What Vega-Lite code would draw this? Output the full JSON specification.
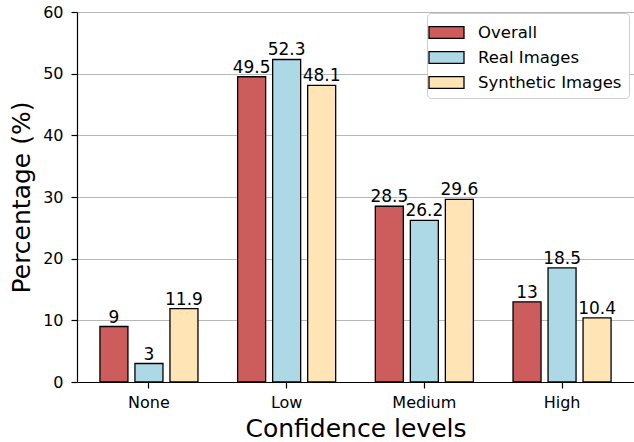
{
  "$schema": "https://vega.github.io/schema/vega-lite/v6.json",
  "width": 557,
  "height": 370,
  "autosize": {"type": "none"},
  "padding": {"left": 77, "top": 12, "right": 0, "bottom": 60},
  "background": "white",
  "config": {
    "font": "DejaVu Sans",
    "view": {"stroke": null},
    "axis": {"labelFont": "DejaVu Sans", "titleFont": "DejaVu Sans", "labelColor": "#000", "titleColor": "#000", "domainColor": "#000", "tickColor": "#000", "titleFontWeight": "normal"}
  },
  "data": {
    "values": [
      {"level": "None", "series": "Overall", "value": 9},
      {"level": "None", "series": "Real Images", "value": 3},
      {"level": "None", "series": "Synthetic Images", "value": 11.9},
      {"level": "Low", "series": "Overall", "value": 49.5},
      {"level": "Low", "series": "Real Images", "value": 52.3},
      {"level": "Low", "series": "Synthetic Images", "value": 48.1},
      {"level": "Medium", "series": "Overall", "value": 28.5},
      {"level": "Medium", "series": "Real Images", "value": 26.2},
      {"level": "Medium", "series": "Synthetic Images", "value": 29.6},
      {"level": "High", "series": "Overall", "value": 13},
      {"level": "High", "series": "Real Images", "value": 18.5},
      {"level": "High", "series": "Synthetic Images", "value": 10.4}
    ]
  },
  "encoding": {
    "x": {
      "field": "level", "type": "nominal", "sort": ["None", "Low", "Medium", "High"],
      "scale": {"paddingInner": 0.288, "paddingOuter": 0.1665},
      "axis": {"title": "Confidence levels", "titleFontSize": 25, "labelFontSize": 16, "labelAngle": 0, "tickSize": 6, "tickWidth": 1.2, "labelPadding": 6, "titlePadding": 6, "domainWidth": 1.2, "grid": false}
    },
    "xOffset": {"field": "series", "type": "nominal", "sort": ["Overall", "Real Images", "Synthetic Images"], "scale": {"paddingInner": 0.2, "paddingOuter": 0.0}},
    "y": {
      "field": "value", "type": "quantitative",
      "scale": {"domain": [0, 60], "nice": false},
      "axis": {"title": "Percentage (%)", "titleFontSize": 25, "labelFontSize": 16, "values": [0, 10, 20, 30, 40, 50, 60], "tickSize": 6, "tickWidth": 1.2, "labelPadding": 8, "titlePadding": 8, "gridColor": "#b8b8b8", "gridWidth": 1, "domainWidth": 1.2}
    }
  },
  "layer": [
    {
      "mark": {"type": "bar", "stroke": "black", "strokeWidth": 1.3},
      "encoding": {
        "color": {
          "field": "series", "type": "nominal", "sort": ["Overall", "Real Images", "Synthetic Images"],
          "scale": {"domain": ["Overall", "Real Images", "Synthetic Images"], "range": ["#cd5c5c", "#add8e6", "#ffe4b5"]},
          "legend": {
            "title": null, "orient": "none", "legendX": 350, "legendY": 1,
            "symbolType": "M-1.5,-0.5L1.5,-0.5L1.5,0.5L-1.5,0.5Z", "symbolSize": 544,
            "symbolStrokeColor": "black", "symbolStrokeWidth": 1.3, "symbolOpacity": 1,
            "labelFontSize": 16.5, "labelColor": "#000", "labelOffset": 19,
            "fillColor": "white", "strokeColor": "#cccccc", "cornerRadius": 4, "padding": 7, "rowPadding": 4
          }
        }
      }
    },
    {
      "mark": {"type": "text", "baseline": "alphabetic", "dy": -4, "fontSize": 17, "color": "#000"},
      "encoding": {
        "text": {"field": "value", "type": "quantitative", "format": ".3~g"}
      }
    }
  ]
}
